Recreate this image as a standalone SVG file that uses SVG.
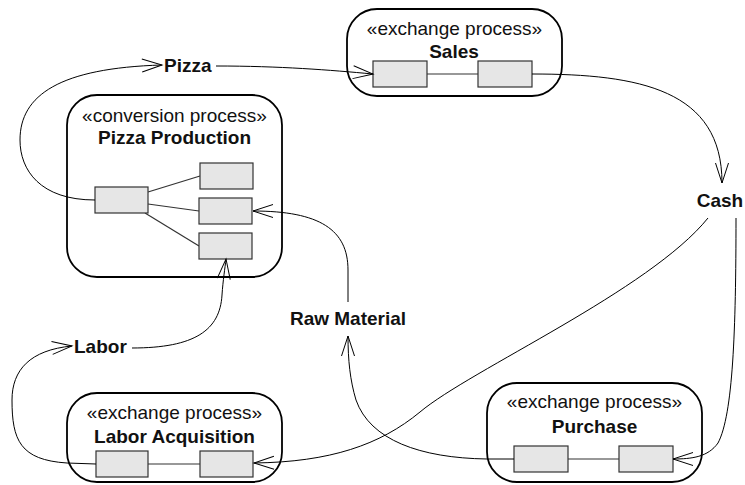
<svg xmlns="http://www.w3.org/2000/svg" width="745" height="485" viewBox="0 0 745 485">
  <defs>
    <marker id="open" markerUnits="userSpaceOnUse" markerWidth="30" markerHeight="30" refX="0" refY="0" orient="auto" overflow="visible">
      <path d="M-20,-6.5 L0,0 L-20,6.5" fill="none" stroke="#000" stroke-width="1"/>
    </marker>
  </defs>
  <style>
    .proc { fill: #fff; stroke: #000; stroke-width: 1.8; }
    .pin { fill: #e6e6e6; stroke: #333; stroke-width: 1.2; }
    .link { fill: none; stroke: #333; stroke-width: 1.2; }
    .flow { fill: none; stroke: #000; stroke-width: 1; }
    .arrow { marker-end: url(#open); }
    .st { font-family: "Liberation Sans", Arial, sans-serif; font-size: 19px; fill: #111; text-anchor: middle; }
    .nm { font-family: "Liberation Sans", Arial, sans-serif; font-size: 19px; font-weight: bold; fill: #111; text-anchor: middle; }
    .lbl { font-family: "Liberation Sans", Arial, sans-serif; font-size: 19px; font-weight: bold; fill: #111; }
  </style>

  <!-- process nodes -->
  <g id="sales">
    <rect class="proc" x="347" y="9" width="215" height="87" rx="30" ry="30"/>
    <text class="st" x="454.5" y="35">«exchange process»</text>
    <text class="nm" x="454" y="58">Sales</text>
    <line class="link" x1="427" y1="74" x2="478" y2="74"/>
    <rect class="pin" x="373" y="61" width="54" height="26"/>
    <rect class="pin" x="478" y="61" width="54" height="26"/>
  </g>

  <g id="pizza-production">
    <rect class="proc" x="67" y="95" width="215" height="182" rx="30" ry="30"/>
    <text class="st" x="174.5" y="122">«conversion process»</text>
    <text class="nm" x="174.5" y="144">Pizza Production</text>
    <line class="link" x1="148" y1="192" x2="200" y2="176"/>
    <line class="link" x1="148" y1="204" x2="199" y2="211"/>
    <line class="link" x1="145" y1="213" x2="199" y2="246"/>
    <rect class="pin" x="95" y="187" width="53" height="26"/>
    <rect class="pin" x="200" y="163" width="53" height="26"/>
    <rect class="pin" x="199" y="198" width="53" height="26"/>
    <rect class="pin" x="199" y="233" width="53" height="26"/>
  </g>

  <g id="labor-acquisition">
    <rect class="proc" x="67" y="393" width="215" height="89" rx="30" ry="30"/>
    <text class="st" x="174.5" y="419">«exchange process»</text>
    <text class="nm" x="174.5" y="443">Labor Acquisition</text>
    <line class="link" x1="148" y1="464" x2="200" y2="464"/>
    <rect class="pin" x="96" y="451" width="52" height="26"/>
    <rect class="pin" x="200" y="451" width="53" height="26"/>
  </g>

  <g id="purchase">
    <rect class="proc" x="487" y="383" width="215" height="99" rx="30" ry="30"/>
    <text class="st" x="594.5" y="408">«exchange process»</text>
    <text class="nm" x="594.5" y="433">Purchase</text>
    <line class="link" x1="568" y1="459" x2="619" y2="459"/>
    <rect class="pin" x="514" y="446" width="54" height="26"/>
    <rect class="pin" x="619" y="446" width="54" height="26"/>
  </g>

  <!-- resource labels -->
  <g id="pizza">
    <text class="lbl" x="164" y="72">Pizza</text>
  </g>
  <g id="cash">
    <text class="lbl" x="720" y="207" text-anchor="middle">Cash</text>
  </g>
  <g id="raw-material">
    <text class="lbl" x="348" y="325" text-anchor="middle">Raw Material</text>
  </g>
  <g id="labor">
    <text class="lbl" x="74" y="353">Labor</text>
  </g>

  <!-- resource flows -->
  <g id="flows">
    <path class="flow arrow" d="M95,200 C40,200 20,170 20,140 C20,95 60,68 162,65"/>
    <path class="flow arrow" d="M216,66 C280,66 330,70 373,74"/>
    <path class="flow arrow" d="M532,74 C640,74 722,90 722,183"/>
    <path class="flow arrow" d="M736,218 C736,330 733,415 718,443 C708,457 692,459 673,459"/>
    <path class="flow arrow" d="M708,218 C650,290 470,370 420,412 C380,445 330,462 254,463"/>
    <path class="flow arrow" d="M514,459 L487,459 C420,458 370,440 356,400 C350,380 348,360 348,336"/>
    <path class="flow arrow" d="M348,302 L348,270 C348,230 320,211 253,211"/>
    <path class="flow arrow" d="M132,348 C195,348 220,330 222,295 C223,280 225,268 226,259"/>
    <path class="flow arrow" d="M96,464 L67,463 C20,460 12,440 12,400 C12,370 30,350 72,346"/>
  </g>
</svg>
